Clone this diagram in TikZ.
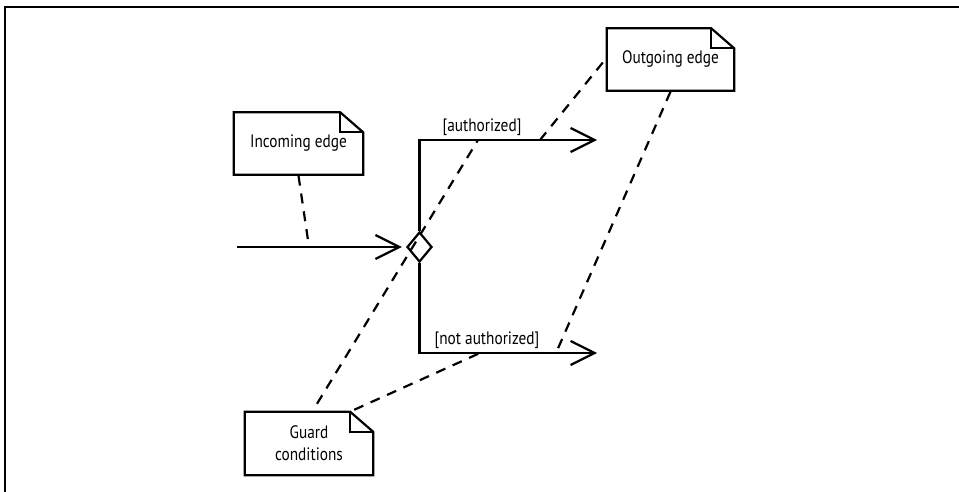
\documentclass[tikz,border=0pt]{standalone}
\usepackage{fontspec}
\setmainfont[FakeStretch=0.85]{PT Sans}
\usetikzlibrary{arrows.meta,shapes.geometric,calc}
\tikzset{
  notebox/.style={minimum width=#1, minimum height=62pt, inner sep=0pt, align=center, font=\fontsize{18}{22}\selectfont},
  notebox/.default=128pt,
  edge/.style={line width=2.2pt},
  tipped/.style={edge, -{Straight Barb[length=24pt,width=24pt,line width=2.2pt]}},
  anno/.style={line width=2.2pt, dash pattern=on 10pt off 8pt},
  guard/.style={font=\fontsize{18}{22}\selectfont, inner sep=0pt},
  dia/.style={diamond, draw, line width=2.2pt, minimum width=25pt, minimum height=30pt, inner sep=0pt}
}
\newcommand{\dogear}[1]{%
  \draw[line width=2.2pt, line join=miter] (#1.north west) -- ([xshift=-23pt]#1.north east) -- ([yshift=-20pt]#1.north east) -- (#1.south east) -- (#1.south west) -- cycle;
  \draw[line width=2.2pt] ([xshift=-23pt]#1.north east) |- ([yshift=-20pt]#1.north east);}
\begin{document}
\begin{tikzpicture}[x=1pt,y=-1pt]
\useasboundingbox (0,0) rectangle (959,492);
% frame
\draw[line width=2pt] (5,492) -- (5,7) -- (959,7);
% notes
\node[notebox=129pt] (inc) at (298.5,143.5) {Incoming edge};
\node[notebox=127pt] (out) at (670.5,59.5) {Outgoing edge};
\node[notebox=128pt, minimum height=63pt] (grd) at (309,443.5) {Guard\\conditions};
\dogear{inc}
\dogear{out}
\dogear{grd}
% decision
\node[dia] (d) at (419.5,247) {};
\coordinate (start) at (237,247);
\coordinate (aend) at (597,140);
\coordinate (nend) at (597,353);
\draw[tipped, shorten >=4pt] (start) -- (d.west);
\draw[tipped] (d.north) |- (aend);
\draw[tipped] (d.south) |- (nend);
\node[guard] (ga) at (482,127) {[authorized]};
\node[guard] (gn) at (487,340) {[not authorized]};
% annotation anchors
\coordinate (inA) at (309,247);
\coordinate (aA) at (540,140);
\coordinate (aG) at (478,140);
\coordinate (nA) at (556,353);
\coordinate (nG) at (480,353);
\draw[anno] (inc.south) ++(0,1) coordinate (incb) (incb) -- (inA);
\draw[anno] ($(out.west)+(-4,3)$) coordinate (outw) (outw) -- (aA);
\draw[anno] ($(out.south)+(0,1)$) coordinate (outs) (outs) -- (nA);
\draw[anno] ($(grd.north)+(8,-8)$) coordinate (grdn) (grdn) -- (aG);
\draw[anno] ($(grd.north east)+(-19,-2)$) coordinate (grde) (grde) -- (nG);
\end{tikzpicture}
\end{document}
